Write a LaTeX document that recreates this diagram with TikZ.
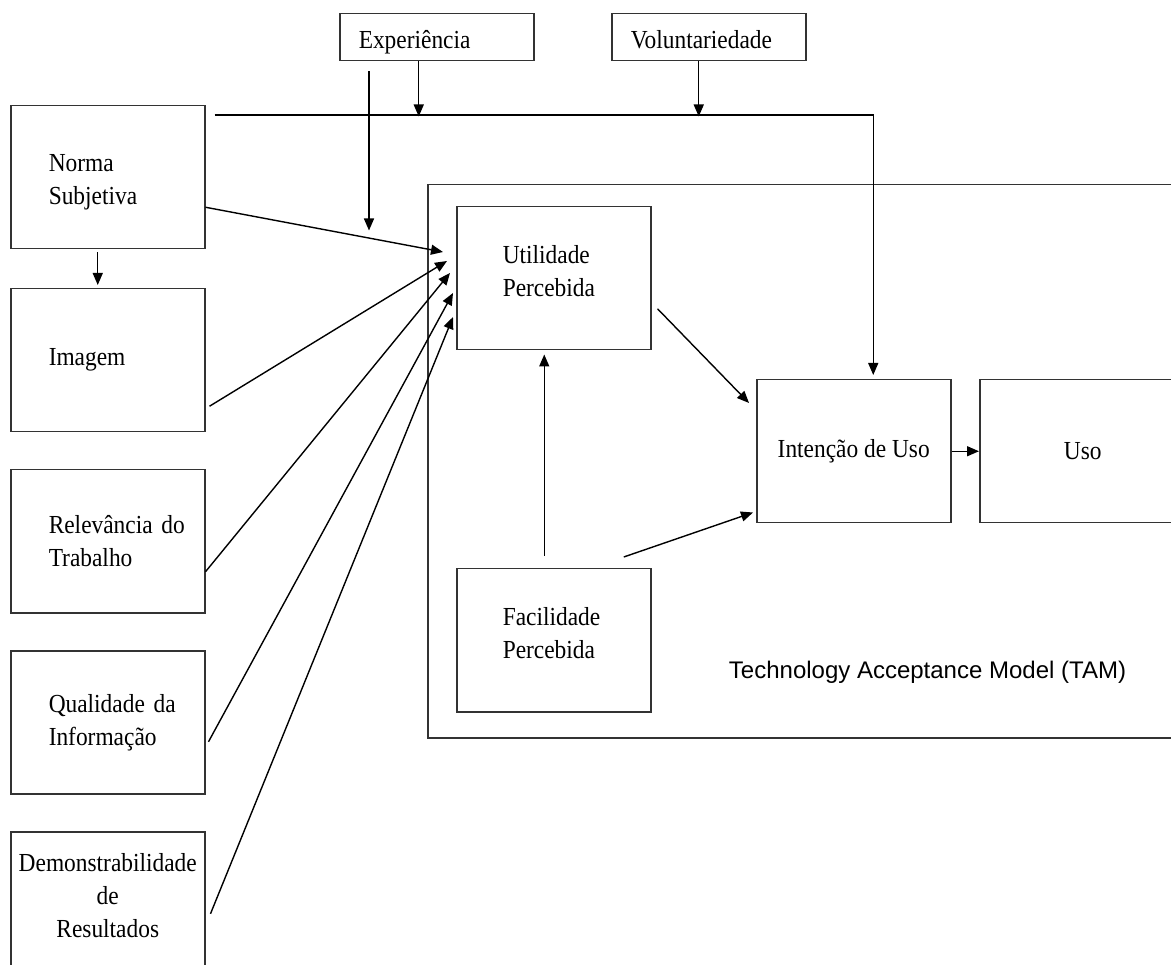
\documentclass[tikz,border=0pt]{standalone}
\usepackage{fontspec}
\setmainfont[FakeStretch=0.9]{Liberation Serif}
\newfontfamily\modelfont{Liberation Sans}
\usetikzlibrary{arrows.meta,calc}

\tikzset{
  boxline/.style={draw=black!80, line width=1.5pt},
  box/.style={boxline, minimum width=194pt, minimum height=143pt,
    font=\fontsize{26}{33}\selectfont, anchor=north west},
  leftbox/.style={box, align=left, text width=118pt, inner xsep=38pt},
  tambox/.style={box, align=left, text width=102pt, inner xsep=46pt, text depth=47pt},
  midbox/.style={box, align=center, text width=180pt, inner xsep=7pt},
  topbox/.style={boxline, minimum height=47pt, align=left, text width=156pt,
    inner xsep=19pt, inner ysep=0pt, text height=24pt, text depth=1pt,
    font=\fontsize{26}{33}\selectfont, anchor=north west},
  frame/.style={boxline, anchor=north west},
  modeltext/.style={font=\modelfont\fontsize{24}{28}\selectfont},
  arr/.style={line width=1.4pt, black, -{Triangle[length=12pt,width=10pt]}},
}

\begin{document}
\begin{tikzpicture}[x=1pt,y=-1pt]
\useasboundingbox (0,0) rectangle (1171,965);
\clip (0,0) rectangle (1171,965);

% TAM frame and its caption
\node[frame, minimum width=780pt, minimum height=553pt] (tam) at (427,184) {};
\node[modeltext] (tamlabel) at (927.5,672) {Technology Acceptance Model (TAM)};

% external determinants
\node[leftbox, text height=28pt] (norma) at (10,105) {Norma\\Subjetiva};
\node[leftbox] (imagem) at (10,288) {Imagem};
\node[leftbox] (relev) at (10,469) {\mbox{Relevância do}\\Trabalho};
\node[leftbox] (qual) at (10,650) {\mbox{Qualidade da}\\Informação};
\node[midbox, text depth=82pt] (dem) at (10,831) {Demonstrabilidade\\de\\Resultados};

% moderators
\node[topbox] (exp) at (339,13) {Experiência};
\node[topbox] (vol) at (611,13) {Voluntariedade};

% TAM constructs
\node[tambox] (util) at (456,206) {Utilidade\\Percebida};
\node[tambox] (fac) at (456,568) {Facilidade\\Percebida};
\node[box, align=center] (int) at (756,379) {Intenção de Uso};
\node[box, align=center, minimum width=206pt] (uso) at (979,379) {Uso};

% subjective norm path to intention, moderated by experience and voluntariness
\coordinate (ctop) at ($(norma.north east)+(9,10)$);
\coordinate (cexp) at ($(exp.south)+(-18,55)$);
\coordinate (cvol) at ($(vol.south)+(-10,55)$);
\coordinate (cint) at ($(int.north)+(19.5,-264)$);
\draw[arr] (ctop) -- (cint) -- ($(int.north)+(19.5,-4)$);
\draw[arr] ($(exp.south)+(-18,0)$) -- (cexp);
\draw[arr] ($(vol.south)+(-10,0)$) -- (cvol);

% experience moderating the norm -> usefulness path
\draw[arr] ($(exp.south west)+(30,10)$) -- ($(exp.south west)+(30,169)$);

% norm -> image
\draw[arr] ($(norma.south)+(-10,3)$) -- ($(imagem.north)+(-10,-3)$);

% determinants -> perceived usefulness
\draw[arr] ($(norma.east)+(0,30)$) -- ($(util.north west)+(-13,46)$);
\draw[arr] ($(imagem.east)+(4,46)$) -- ($(util.north west)+(-9,55)$);
\draw[arr] ($(relev.east)+(0,30.5)$) -- ($(util.north west)+(-6,67)$);
\draw[arr] ($(qual.east)+(3,19.5)$) -- ($(util.north west)+(-3,87)$);
\draw[arr] ($(dem.east)+(5,10.5)$) -- ($(util.north west)+(-3,111)$);

% inside TAM
\draw[arr] ($(fac.north)+(-9.5,-12)$) -- ($(util.south)+(-9.5,4)$);
\draw[arr] ($(util.east)+(6,30.5)$) -- ($(int.north west)+(-7,24)$);
\draw[arr] ($(fac.north)+(70,-11)$) -- ($(int.south west)+(-3,-11)$);
\draw[arr] (int.east) -- (uso.west);
\end{tikzpicture}
\end{document}
